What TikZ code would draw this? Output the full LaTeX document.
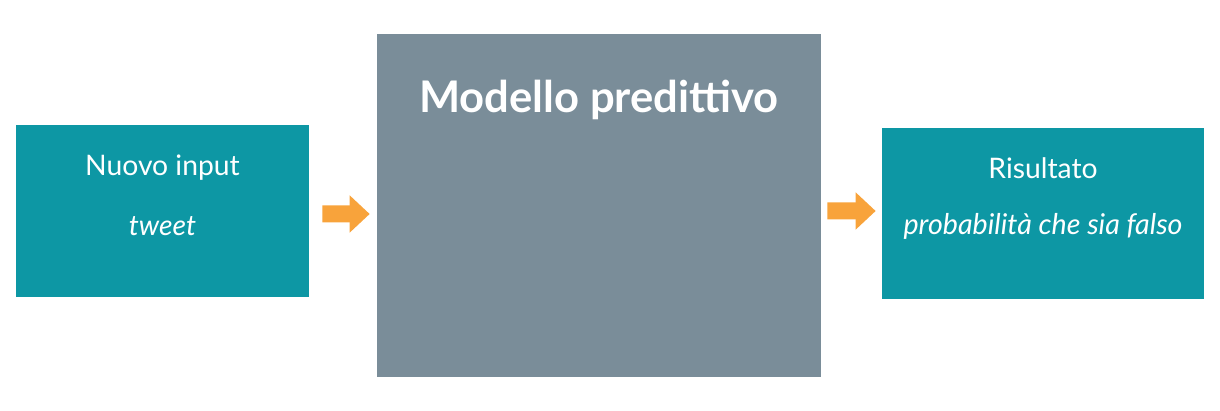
\documentclass[tikz,border=0pt]{standalone}
\usepackage{fontspec}
\setmainfont{Lato}
\usetikzlibrary{arrows.meta}
\usetikzlibrary{calc}

\definecolor{tealbox}{HTML}{0D97A4}
\definecolor{greybox}{HTML}{7A8D99}
\definecolor{arroworange}{HTML}{F8A33B}

\tikzset{
  box/.style={fill=tealbox,text=white,inner sep=0pt,align=center},
  bigbox/.style={fill=greybox,inner sep=0pt},
  flow/.style={arroworange,line width=0.34cm,-{Triangle[length=0.4cm,width=0.72cm]}}
}

\begin{document}
\begin{tikzpicture}[x=0.02cm,y=-0.02cm]
      \useasboundingbox (0,0) rectangle (1220,411);

      \node (input) at (162.5,211) [box,minimum width=5.86cm,minimum height=3.44cm]{};
      \node (modello) at (599,205.5) [bigbox,minimum width=8.88cm,minimum height=6.86cm]{};
      \node (result) at (1043,213.5) [box,minimum width=6.44cm,minimum height=3.42cm]{};

      \node (inputtitle) at (162.5,168) [text=white]{\fontsize{16.1}{18}\selectfont Nuovo input};
      \node (inputtext) at (162.5,226) [text=white]{\fontsize{16.1}{18}\selectfont\itshape tweet};
      \node (modellotitle) at (599,100) [text=white]{\fontsize{24.8}{28}\selectfont\bfseries Modello predittivo};
      \node (resulttitle) at (1043,168) [text=white]{\fontsize{16.1}{18}\selectfont Risultato};
      \node (resulttext) at (1043,226) [text=white]{\fontsize{16.3}{18}\selectfont\itshape probabilità che sia falso};

      \draw[flow] ($(input.east)+(13,3)$) -- ($(modello.west)+(-7,8.5)$);
      \draw[flow] ($(modello.east)+(6,5.5)$) -- ($(result.west)+(-6,-2.5)$);
    \end{tikzpicture}
\end{document}
